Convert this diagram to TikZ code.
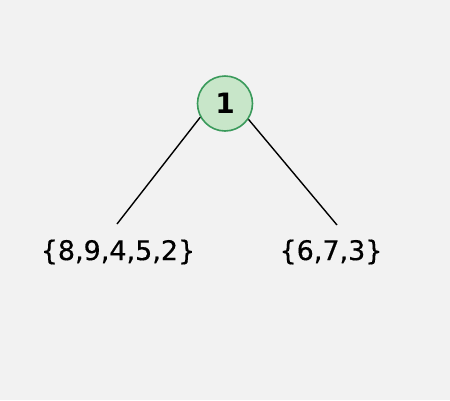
\documentclass[tikz,border=0pt]{standalone}
\usepackage{fontspec}
\setmainfont{DejaVu Sans}
\newfontfamily\labelfont[FakeBold=0.4]{DejaVu Sans}
\definecolor{bg}{HTML}{F2F2F2}
\definecolor{nodefill}{HTML}{C8E6C9}
\definecolor{nodeline}{HTML}{3A9A5B}
\begin{document}
\begin{tikzpicture}[x=1pt,y=-1pt,
  tnode/.style={circle,draw=nodeline,line width=1.6pt,fill=nodefill,minimum size=55pt,inner sep=0pt,font=\bfseries\fontsize{28}{32}\selectfont},
  setlabel/.style={inner sep=0pt,font=\labelfont\fontsize{27}{31}\selectfont},
  edge/.style={line width=1.4pt,black}]
\fill[bg] (0,0) rectangle (450,400);
\useasboundingbox (0,0) rectangle (450,400);
\coordinate (lend) at (117,224);
\coordinate (rend) at (337,225);
\node[tnode] (root) at (225,103.5) {1};
\draw[edge] (root.209) -- (lend);
\draw[edge] (root.326) -- (rend);
\node[setlabel] (left) at (118,252) {\{8,9,4,5,2\}};
\node[setlabel] (right) at (331,252) {\{6,7,3\}};
\end{tikzpicture}
\end{document}
